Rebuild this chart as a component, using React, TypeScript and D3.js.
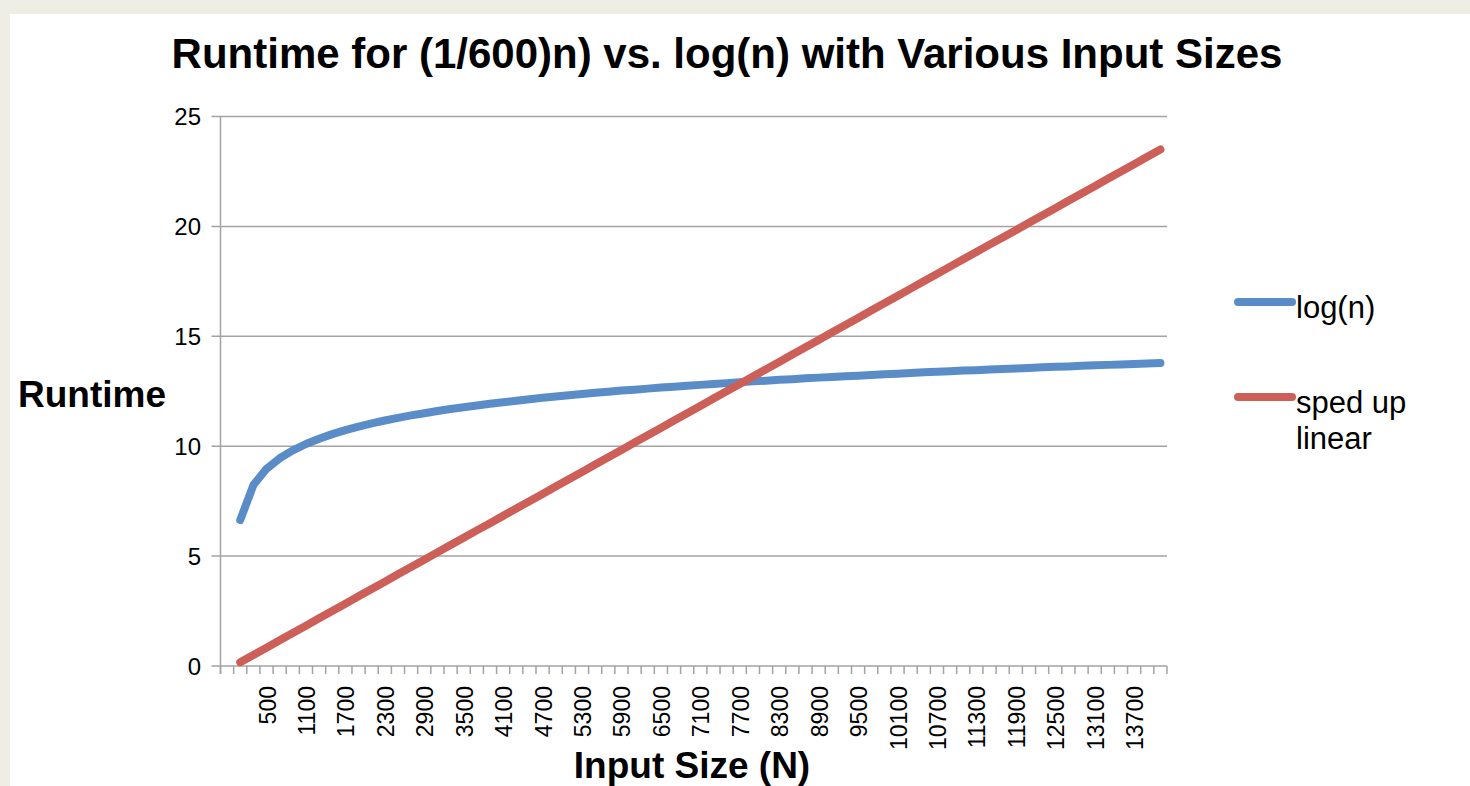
import React from "react";
import * as d3 from "d3";

// category labels (first slot left blank like the sheet)
const categories: string[] = [
  "", "100", "300", "500", "700", "900", "1100", "1300", "1500", "1700", "1900",
  "2100", "2300", "2500", "2700", "2900", "3100", "3300", "3500", "3700", "3900",
  "4100", "4300", "4500", "4700", "4900", "5100", "5300", "5500", "5700", "5900",
  "6100", "6300", "6500", "6700", "6900", "7100", "7300", "7500", "7700", "7900",
  "8100", "8300", "8500", "8700", "8900", "9100", "9300", "9500", "9700", "9900",
  "10100", "10300", "10500", "10700", "10900", "11100", "11300", "11500", "11700", "11900",
  "12100", "12300", "12500", "12700", "12900", "13100", "13300", "13500", "13700", "13900",
  "14100",
];

// log(n) series, starts at category "100"
const logValues: number[] = [
  6.64, 8.23, 8.97, 9.45, 9.81, 10.1, 10.34, 10.55, 10.73, 10.89,
  11.04, 11.17, 11.29, 11.4, 11.5, 11.6, 11.69, 11.77, 11.85, 11.93,
  12.0, 12.07, 12.14, 12.2, 12.26, 12.32, 12.37, 12.43, 12.48, 12.53,
  12.57, 12.62, 12.67, 12.71, 12.75, 12.79, 12.83, 12.87, 12.91, 12.95,
  12.98, 13.02, 13.05, 13.09, 13.12, 13.15, 13.18, 13.21, 13.24, 13.27,
  13.3, 13.33, 13.36, 13.39, 13.41, 13.44, 13.46, 13.49, 13.51, 13.54,
  13.56, 13.59, 13.61, 13.63, 13.66, 13.68, 13.7, 13.72, 13.74, 13.76,
  13.78,
];

// sped up linear series
const linearValues: number[] = [
  0.17, 0.5, 0.83, 1.17, 1.5, 1.83, 2.17, 2.5, 2.83, 3.17,
  3.5, 3.83, 4.17, 4.5, 4.83, 5.17, 5.5, 5.83, 6.17, 6.5,
  6.83, 7.17, 7.5, 7.83, 8.17, 8.5, 8.83, 9.17, 9.5, 9.83,
  10.17, 10.5, 10.83, 11.17, 11.5, 11.83, 12.17, 12.5, 12.83, 13.17,
  13.5, 13.83, 14.17, 14.5, 14.83, 15.17, 15.5, 15.83, 16.17, 16.5,
  16.83, 17.17, 17.5, 17.83, 18.17, 18.5, 18.83, 19.17, 19.5, 19.83,
  20.17, 20.5, 20.83, 21.17, 21.5, 21.83, 22.17, 22.5, 22.83, 23.17,
  23.5,
];

const yTicks: number[] = [0, 5, 10, 15, 20, 25];

const seriesList = [
  { name: ["log(n)"], values: logValues, color: "#5a8dc8" },
  { name: ["sped up", "linear"], values: linearValues, color: "#cd5f59" },
];

const App: React.FC = () => {
  const width = 1470;
  const height = 786;
  const plot = { left: 220.5, right: 1167, top: 116.5, bottom: 666 };
  const font = "'Liberation Sans', Arial, sans-serif";

  const x = d3
    .scaleBand<number>()
    .domain(categories.map((_, i) => i))
    .range([plot.left, plot.right])
    .padding(0);

  const y = d3.scaleLinear().domain([0, 25]).range([plot.bottom, plot.top]);

  const line = d3
    .line<number>()
    .x((_, i) => x(i + 1)! + x.bandwidth() / 2)
    .y((d) => y(d));

  return (
    <svg
      width={width}
      height={height}
      style={{ position: "absolute", left: 0, top: 0, display: "block" }}
    >
      <rect x={0} y={0} width={width} height={height} fill="#efeee5" />
      <rect x={10} y={14} width={width - 10} height={height - 14} fill="#ffffff" />

      {/* Title */}
      <text
        x={727}
        y={68}
        textAnchor="middle"
        fontFamily={font}
        fontWeight="bold"
        fontSize={42}
        fill="#000"
      >
        Runtime for (1/600)n) vs. log(n) with Various Input Sizes
      </text>

      {/* Gridlines + Y axis labels */}
      {yTicks.map((t) => (
        <g key={t}>
          <line
            x1={plot.left - 9}
            x2={plot.right}
            y1={y(t)}
            y2={y(t)}
            stroke="#a3a3a3"
            strokeWidth={1.5}
          />
          <text
            x={201}
            y={y(t)}
            textAnchor="end"
            dominantBaseline="central"
            fontFamily={font}
            fontSize={24}
            fill="#000"
          >
            {t}
          </text>
        </g>
      ))}

      {/* Y axis */}
      <line
        x1={plot.left}
        x2={plot.left}
        y1={plot.top}
        y2={plot.bottom + 8}
        stroke="#a3a3a3"
        strokeWidth={1.5}
      />

      {/* X tick marks */}
      {d3.range(categories.length + 1).map((i) => {
        const xp = plot.left + i * x.bandwidth();
        return (
          <line
            key={i}
            x1={xp}
            x2={xp}
            y1={plot.bottom}
            y2={plot.bottom + 8}
            stroke="#a3a3a3"
            strokeWidth={1.5}
          />
        );
      })}

      {/* X labels, every third category */}
      {categories.map((c, i) =>
        i % 3 === 0 && c !== "" ? (
          <text
            key={i}
            transform={`translate(${x(i)! + x.bandwidth() / 2 + 1},686) rotate(-90)`}
            textAnchor="end"
            dominantBaseline="central"
            fontFamily={font}
            fontSize={23}
            fill="#000"
          >
            {c}
          </text>
        ) : null
      )}

      {/* Lines */}
      {seriesList.map((s) => (
        <path
          key={s.color}
          d={line(s.values) ?? ""}
          fill="none"
          stroke={s.color}
          strokeWidth={8}
          strokeLinecap="round"
          strokeLinejoin="round"
        />
      ))}

      {/* Axis titles */}
      <text
        x={92}
        y={407}
        textAnchor="middle"
        fontFamily={font}
        fontWeight="bold"
        fontSize={37}
        fill="#000"
      >
        Runtime
      </text>
      <text
        x={692}
        y={778}
        textAnchor="middle"
        fontFamily={font}
        fontWeight="bold"
        fontSize={37}
        fill="#000"
      >
        Input Size (N)
      </text>

      {/* Legend */}
      {seriesList.map((s, k) => {
        const ly = k === 0 ? 302 : 397;
        return (
          <g key={s.color}>
            <line
              x1={1238}
              x2={1292}
              y1={ly}
              y2={ly}
              stroke={s.color}
              strokeWidth={8}
              strokeLinecap="round"
            />
            {s.name.map((n, j) => (
              <text
                key={n}
                x={1296}
                y={ly + 16 + j * 36}
                fontFamily={font}
                fontSize={31}
                fill="#000"
              >
                {n}
              </text>
            ))}
          </g>
        );
      })}
    </svg>
  );
};

export default App;
